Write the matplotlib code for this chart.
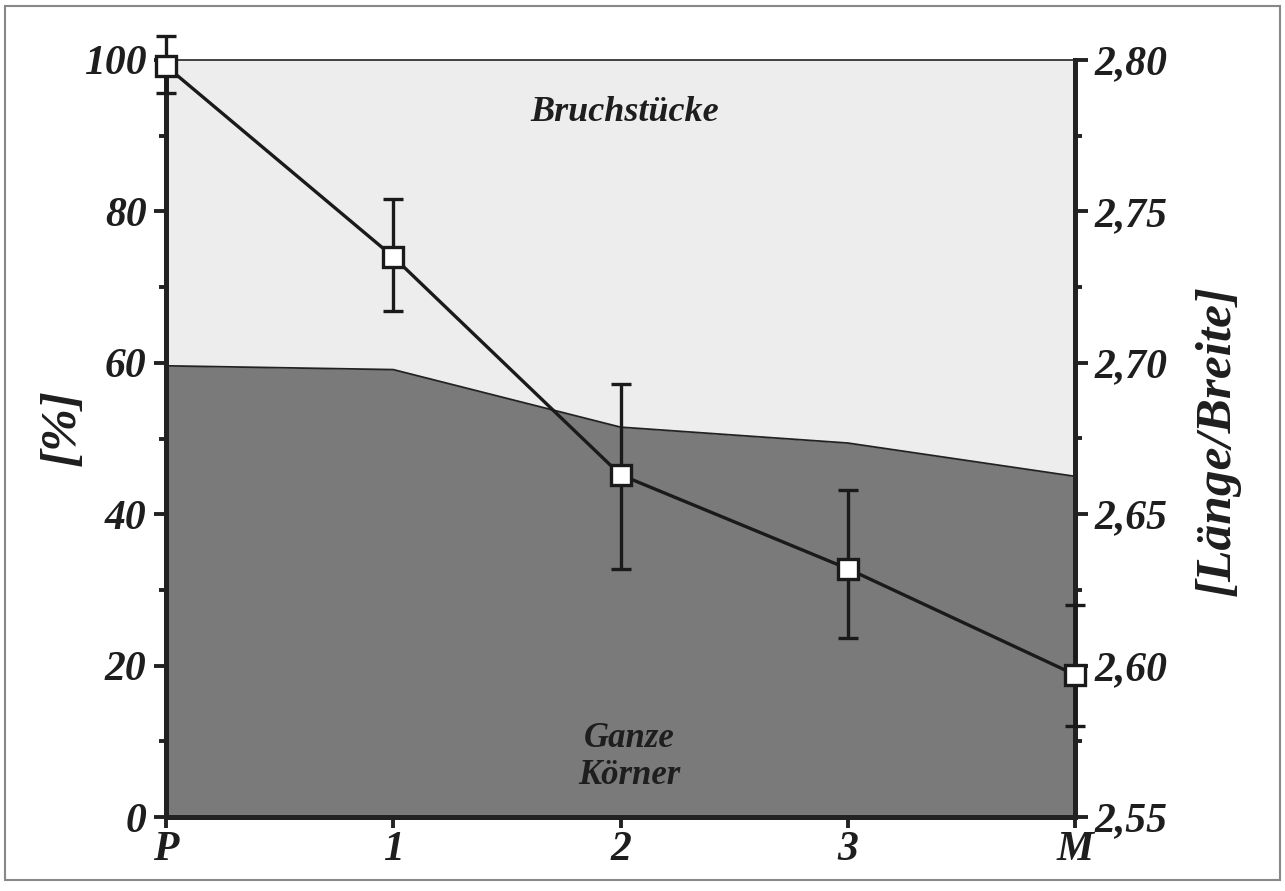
import matplotlib
matplotlib.use("Agg")
import matplotlib.pyplot as plt
from matplotlib.patches import Rectangle
from matplotlib.ticker import FixedLocator, MultipleLocator

# ---- data ----
categories = ['P', '1', '2', '3', 'M']
ganze_koerner = [59.6, 59.1, 51.5, 49.4, 45.0]          # [%], dark area
ratio = [2.798, 2.735, 2.663, 2.632, 2.597]              # Länge/Breite
ratio_low = [2.789, 2.717, 2.632, 2.609, 2.580]
ratio_high = [2.808, 2.754, 2.693, 2.658, 2.620]
left_ticks = [0, 20, 40, 60, 80, 100]
left_labels = ['0', '20', '40', '60', '80', '100']
right_ticks = [2.55, 2.60, 2.65, 2.70, 2.75, 2.80]
right_labels = ['2,55', '2,60', '2,65', '2,70', '2,75', '2,80']

plt.rcParams['font.family'] = ['Liberation Serif', 'DejaVu Serif']
plt.rcParams['font.weight'] = 'bold'
plt.rcParams['font.style'] = 'italic'
plt.rcParams['axes.labelweight'] = 'bold'

TXT = dict(fontweight='bold', fontstyle='italic', color='#1e1e1e')

fig = plt.figure(figsize=(12.85, 8.91), dpi=100)
ax = fig.add_axes([166/1285, 1-817/891, (1075-166)/1285, (817-60)/891])

x = list(range(len(categories)))
top = [100] * len(categories)
ax.fill_between(x, 0, ganze_koerner, color='#7a7a7a', lw=0, zorder=1)
ax.fill_between(x, ganze_koerner, top, color='#ededed', lw=0, zorder=1)
ax.plot(x, ganze_koerner, color='#222222', lw=1.3, zorder=2)

ax.set_xlim(0, len(categories) - 1)
ax.set_ylim(0, 100)
ax.set_xticks(x)
ax.set_xticklabels(categories, fontsize=30, **TXT)
ax.yaxis.set_major_locator(FixedLocator(left_ticks))
ax.set_yticklabels(left_labels, fontsize=30, **TXT)
ax.yaxis.set_minor_locator(MultipleLocator(10))

ax.spines['left'].set_linewidth(3.6)
ax.spines['bottom'].set_linewidth(3.6)
ax.spines['top'].set_linewidth(1.2)
ax.spines['right'].set_visible(False)
for s in ax.spines.values():
    s.set_color('#222222')

ax.tick_params(axis='y', which='major', direction='out', length=9, width=2.8,
               pad=5, color='#222222')
ax.tick_params(axis='y', which='minor', direction='out', length=5, width=2.8,
               color='#222222')
ax.tick_params(axis='x', which='major', direction='out', length=8, width=2.8,
               pad=2, color='#222222')

ax.set_ylabel('[%]', fontsize=37, va='center', **TXT)
ax.yaxis.set_label_coords(-0.114, 0.514)

ax.text(2.02, 93.0, 'Bruchstücke', fontsize=26, ha='center', va='center',
        zorder=3, **TXT)
ax.text(2.04, 7.9, 'Ganze\nKörner', fontsize=25, ha='center', va='center',
        linespacing=1.15, zorder=3, **TXT)

ax2 = ax.twinx()
ax2.set_ylim(2.55, 2.80)
ax2.yaxis.set_major_locator(FixedLocator(right_ticks))
ax2.set_yticklabels(right_labels, fontsize=30, **TXT)
ax2.yaxis.set_minor_locator(MultipleLocator(0.025))
for k in ['left', 'top', 'bottom']:
    ax2.spines[k].set_visible(False)
ax2.spines['right'].set_linewidth(3.6)
ax2.spines['right'].set_color('#222222')
ax2.tick_params(axis='y', which='major', direction='out', length=9, width=2.8,
                pad=5, color='#222222')
ax2.tick_params(axis='y', which='minor', direction='out', length=5, width=2.8,
                color='#222222')

yerr = [[r - lo for r, lo in zip(ratio, ratio_low)],
        [hi - r for r, hi in zip(ratio, ratio_high)]]
eb = ax2.errorbar(x, ratio, yerr=yerr, color='#1a1a1a', lw=2.4,
                  elinewidth=2.4, capsize=7, capthick=2.4,
                  marker='s', markersize=15, markerfacecolor='white',
                  markeredgecolor='#1a1a1a', markeredgewidth=2.4,
                  clip_on=False, zorder=5)
eb.lines[0].set_clip_on(False)
for art in eb.lines[1]:
    art.set_clip_on(False)
for coll in eb.lines[2]:
    coll.set_clip_on(False)

ax2.set_ylabel('[Länge/Breite]', fontsize=37, va='center', rotation=90, **TXT)
ax2.yaxis.set_label_coords(1.157, 0.497)

fig.patches.append(Rectangle((5/1285, 1-880/891), 1275/1285, 874/891,
                             transform=fig.transFigure, fill=False,
                             edgecolor='#888888', lw=1.5))

fig.savefig('out.png', dpi=100)
